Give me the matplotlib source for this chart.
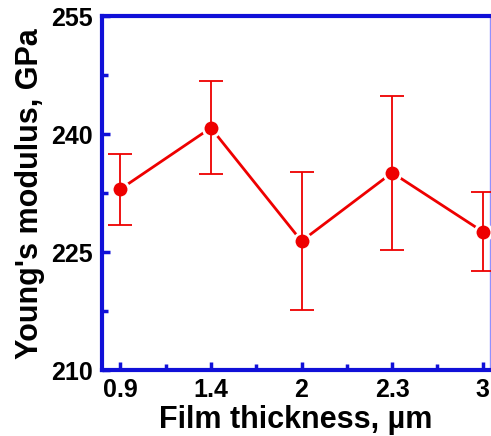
import numpy as np
import matplotlib.pyplot as plt
from matplotlib.ticker import MultipleLocator

# Espesor de película (categorías) y módulo de Young medido
espesores = ["0.9", "1.4", "2", "2.3", "3"]
modulo = [233.0, 240.8, 226.4, 235.1, 227.6]
error = [4.5, 5.9, 8.8, 9.8, 5.0]

rojo = "#ee0000"
azul = "#1010d8"

plt.rcParams['font.family'] = ['Liberation Sans', 'DejaVu Sans']
plt.rcParams['font.weight'] = 'bold'

fig = plt.figure(figsize=(4.91, 4.36), dpi=100)
ax = fig.add_axes([0.208, 0.151, 0.790, 0.812])

x = np.arange(len(espesores))

# Línea que une los puntos, luego marcadores con borde blanco y barras de error encima
ax.plot(x, modulo, color=rojo, lw=2, zorder=2)
ax.plot(x, modulo, 'o', color=rojo, ms=12, mec='white', mew=2, zorder=3)
ax.errorbar(x, modulo, yerr=error, fmt='none', ecolor=rojo, elinewidth=1.3,
            capsize=8.5, capthick=1.3, zorder=4)

ax.set_xlim(-0.2, 4.08)
ax.set_ylim(210, 255)
ax.set_xticks(x)
ax.set_xticklabels(espesores)
ax.xaxis.set_minor_locator(MultipleLocator(0.5))
ax.yaxis.set_major_locator(MultipleLocator(15))
ax.yaxis.set_minor_locator(MultipleLocator(7.5))

ax.tick_params(which='both', direction='in', color=azul, labelsize=18,
               top=False, right=False)
ax.tick_params(which='major', length=6, width=2.5)
ax.tick_params(which='minor', length=4, width=2.5)
ax.tick_params(axis='x', pad=6)
ax.tick_params(axis='y', pad=7)

for lado in ['left', 'bottom', 'top']:
    ax.spines[lado].set_color(azul)
    ax.spines[lado].set_linewidth(3)
ax.spines['right'].set_color('#9090ff')
ax.spines['right'].set_linewidth(1)

ax.set_xlabel("Film thickness, \u00b5m", fontsize=22, fontweight='bold', labelpad=2)
ax.set_ylabel("Young's modulus, GPa", fontsize=22, fontweight='bold', labelpad=4)

fig.savefig("out.png", dpi=100)
